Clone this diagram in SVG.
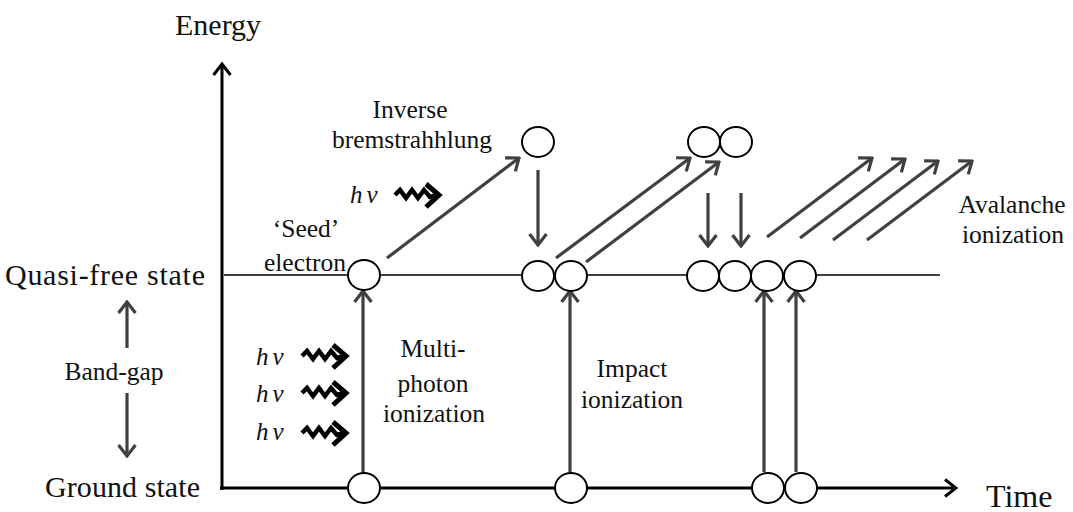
<svg xmlns="http://www.w3.org/2000/svg" xmlns:xlink="http://www.w3.org/1999/xlink" width="1073" height="512" viewBox="0 0 1073 512">
<style>
.t{font-family:"Liberation Serif","Times New Roman",serif;fill:#111}
.big{font-size:30px}
.mid{font-size:25.5px}
.hv{font-family:"Liberation Serif","Times New Roman",serif;font-style:italic;font-size:25px;fill:#111;letter-spacing:4px}
.arr{stroke:#404040;stroke-width:3.2;fill:none;marker-end:url(#ga)}
.ax{stroke:#000;stroke-width:3;fill:none;marker-end:url(#ba)}
.el{fill:#fff;stroke:#000;stroke-width:2}
.lvl{stroke:#404040;stroke-width:2;fill:none}
</style>
<defs>
<marker id="ga" viewBox="0 0 14 20" refX="12" refY="10" markerWidth="14" markerHeight="20" markerUnits="userSpaceOnUse" orient="auto">
<path d="M1,1.5 L12,10 L1,18.5" fill="none" stroke="#404040" stroke-width="3.2"/>
</marker>
<marker id="ba" viewBox="0 0 14 20" refX="12" refY="10" markerWidth="14" markerHeight="20" markerUnits="userSpaceOnUse" orient="auto">
<path d="M1,1.5 L12,10 L1,18.5" fill="none" stroke="#000" stroke-width="3"/>
</marker>
<g id="wavy">
<path d="M0,0 L5,-5 L11,3 L17,-5 L23,3 L29,-5 L35,2 L42,0" fill="none" stroke="#000" stroke-width="4.5" stroke-linejoin="miter"/>
<path d="M31,-11 L44,0 L31,12" fill="none" stroke="#000" stroke-width="5"/>
</g>
</defs>

<g id="axes">
<line class="ax" x1="222" y1="490" x2="222" y2="64"/>
<line class="ax" x1="220" y1="488" x2="956" y2="488"/>
</g>

<g id="levels">
<line class="lvl" x1="224" y1="275" x2="940" y2="275"/>
</g>

<g id="connectors">
<line class="arr" x1="387" y1="258" x2="519" y2="158"/>
<line class="arr" x1="538" y1="170" x2="538" y2="245"/>
<line class="arr" x1="556" y1="258" x2="690" y2="158"/>
<line class="arr" x1="586" y1="262" x2="719" y2="162"/>
<line class="arr" x1="708" y1="193" x2="708" y2="246"/>
<line class="arr" x1="741" y1="193" x2="741" y2="246"/>
<line class="arr" x1="767" y1="237" x2="872" y2="158"/>
<line class="arr" x1="800" y1="238" x2="905" y2="159"/>
<line class="arr" x1="833" y1="240" x2="938" y2="161"/>
<line class="arr" x1="867" y1="240" x2="972" y2="161"/>
<line class="arr" x1="363" y1="472" x2="363" y2="291"/>
<line class="arr" x1="570" y1="472" x2="570" y2="291"/>
<line class="arr" x1="764" y1="472" x2="764" y2="291"/>
<line class="arr" x1="796" y1="472" x2="796" y2="291"/>
<line class="arr" x1="127" y1="348" x2="127" y2="302"/>
<line class="arr" x1="127" y1="393" x2="127" y2="456"/>
</g>

<g id="photons">
<use xlink:href="#wavy" x="395" y="195"/>
<use xlink:href="#wavy" x="302" y="356"/>
<use xlink:href="#wavy" x="302" y="393"/>
<use xlink:href="#wavy" x="302" y="433"/>
</g>

<g id="electrons">
<ellipse class="el" cx="364" cy="275" rx="16" ry="15"/>
<ellipse class="el" cx="538" cy="142" rx="16" ry="15"/>
<ellipse class="el" cx="538" cy="276" rx="16" ry="15"/>
<ellipse class="el" cx="571" cy="276" rx="16" ry="15"/>
<ellipse class="el" cx="704" cy="142" rx="16" ry="15"/>
<ellipse class="el" cx="736" cy="142" rx="16" ry="15"/>
<ellipse class="el" cx="703" cy="276" rx="16" ry="15"/>
<ellipse class="el" cx="735" cy="276" rx="16" ry="15"/>
<ellipse class="el" cx="767" cy="276" rx="16" ry="15"/>
<ellipse class="el" cx="800" cy="276" rx="16" ry="15"/>
<ellipse class="el" cx="364" cy="488" rx="16" ry="15"/>
<ellipse class="el" cx="571" cy="488" rx="16" ry="15"/>
<ellipse class="el" cx="768" cy="488" rx="16" ry="15"/>
<ellipse class="el" cx="801" cy="488" rx="16" ry="15"/>
</g>

<g id="labels">
<text class="t big" x="175" y="35">Energy</text>
<text class="t big" x="986" y="507" style="font-size:32px">Time</text>
<text class="t big" x="5" y="285" textLength="200" lengthAdjust="spacing">Quasi-free state</text>
<text class="t big" x="45" y="497" textLength="155" lengthAdjust="spacing">Ground state</text>
<text class="t mid" x="114" y="380" text-anchor="middle">Band-gap</text>
<text class="t mid" x="410" y="118" text-anchor="middle">Inverse</text>
<text class="t mid" x="412" y="148" text-anchor="middle">bremstrahhlung</text>
<text class="t mid" x="306" y="237" text-anchor="middle">‘Seed’</text>
<text class="t mid" x="305" y="271" text-anchor="middle">electron</text>
<text class="t mid" x="433" y="357" text-anchor="middle">Multi-</text>
<text class="t mid" x="433" y="392" text-anchor="middle">photon</text>
<text class="t mid" x="434" y="422" text-anchor="middle">ionization</text>
<text class="t mid" x="632" y="377" text-anchor="middle">Impact</text>
<text class="t mid" x="632" y="408" text-anchor="middle">ionization</text>
<text class="t mid" x="1012" y="213" text-anchor="middle">Avalanche</text>
<text class="t mid" x="1013" y="243" text-anchor="middle">ionization</text>
<text class="hv" x="350" y="203">hν</text>
<text class="hv" x="256" y="365">hν</text>
<text class="hv" x="256" y="402">hν</text>
<text class="hv" x="256" y="440">hν</text>
</g>
</svg>
